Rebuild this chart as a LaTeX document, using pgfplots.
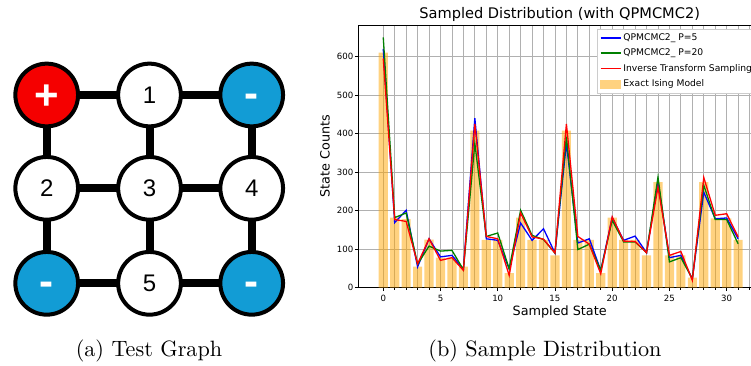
\documentclass[border=0pt]{standalone}
\usepackage{fontspec}
\usepackage{graphicx}
\usepackage{pgfplots}
\usepackage{pgfplotstable}
\pgfplotsset{compat=1.18}
\newfontfamily\dejavu{DejaVu Sans}
\newfontfamily\arial{Liberation Sans}
\definecolor{spinblue}{RGB}{18,156,213}
\definecolor{spinred}{RGB}{245,0,0}
\definecolor{barorange}{RGB}{255,165,0}
\definecolor{barlight}{RGB}{255,210,128}
\definecolor{gridgray}{RGB}{176,176,176}
\definecolor{framegray}{RGB}{204,204,204}
\definecolor{mplblue}{RGB}{0,0,255}
\definecolor{mplgreen}{RGB}{0,128,0}
\definecolor{mplred}{RGB}{255,0,0}

\pgfplotstableread{
x exact p5 p20 its
0 610 620 650 595
1 182 169 182 177
2 178 201 194 172
3 55 54 61 62
4 125 127 108 127
5 78 80 95 71
6 78 84 97 78
7 55 48 47 45
8 408 440 375 425
9 124 127 133 133
10 124 123 142 127
11 38 49 49 32
12 182 168 201 194
13 124 123 136 132
14 124 153 125 126
15 84 90 90 90
16 408 375 392 425
17 124 116 99 133
18 124 127 113 113
19 38 45 45 36
20 182 182 175 184
21 124 123 119 121
22 124 134 119 120
23 84 91 91 91
24 274 275 287 261
25 84 78 67 84
26 84 84 78 94
27 26 23 23 19
28 274 248 266 286
29 180 179 177 188
30 180 181 177 192
31 124 127 114 132
}\datatable

\begin{document}
\begin{tikzpicture}[x=1pt,y=1pt]
\useasboundingbox (0,0) rectangle (751,365);
% ---- (a) test graph ----
\foreach \yy in {270,176.7,81.7} {\draw[line width=8pt] (46.7,\yy) -- (251.7,\yy);}
\foreach \xx in {46.7,149.5,251.7} {\draw[line width=8pt] (\xx,81.7) -- (\xx,270);}
\tikzset{spin/.style={circle, draw=black, line width=4pt, minimum size=62.7pt, inner sep=0pt}}
\node[spin, fill=spinred] at (46.7,270) {};
\node[spin, fill=white] at (149.5,270) {};
\node[spin, fill=spinblue] at (251.7,270) {};
\node[spin, fill=white] at (46.7,176.7) {};
\node[spin, fill=white] at (149.5,176.7) {};
\node[spin, fill=white] at (251.7,176.7) {};
\node[spin, fill=spinblue] at (46.7,81.7) {};
\node[spin, fill=white] at (149.5,81.7) {};
\node[spin, fill=spinblue] at (251.7,81.7) {};
\tikzset{dig/.style={inner sep=0pt, font=\arial\fontsize{24}{24}\selectfont}}
\node[dig] at (149.5,270) {1};
\node[dig] at (46.7,176.7) {2};
\node[dig] at (149.5,176.7) {3};
\node[dig] at (251.7,176.7) {4};
\node[dig] at (149.5,81.7) {5};
\tikzset{sgn/.style={inner sep=0pt, anchor=base, text=white, font=\arial\bfseries\fontsize{42}{42}\selectfont}}
\node[sgn] at (46.7,255.5) {+};
\node[sgn] at (251.7,257.5) {-};
\node[sgn] at (46.7,69.2) {-};
\node[sgn] at (251.7,69.2) {-};
\node at (149,14.2) {\scalebox{2.22}{\fontsize{10}{12}\selectfont (a) Test Graph}};
\node at (545,14.2) {\scalebox{2.22}{\fontsize{10}{12}\selectfont (b) Sample Distribution}};
% ---- (b) chart ----
\begin{axis}[
  at={(358.3pt,77.3pt)}, anchor=south west,
  scale only axis, width=402.7pt, height=262.7pt,
  xmin=-2.18, xmax=33.0, ymin=0, ymax=682,
  axis line style={black, line width=0.8pt},
  tick style={black, line width=0.8pt},
  tick align=outside,
  major tick length=3.5pt, minor tick length=2pt,
  xtick={0,5,...,30},
  minor xtick={0,...,32},
  ytick={0,100,...,600},
  xtick pos=lower, ytick pos=left,
  grid=both,
  major grid style={gridgray, line width=0.8pt},
  minor grid style={gridgray, line width=0.8pt},
  /pgf/number format/assume math mode=true,
  ticklabel style={font=\dejavu\fontsize{8.6}{10}\selectfont},
  yticklabel style={xshift=2pt},
  title={Sampled Distribution (with QPMCMC2)},
  title style={at={(axis description cs:0.5,1.0)}, anchor=base, inner sep=0pt, font=\dejavu\fontsize{14.6}{16}\selectfont},
  xlabel={Sampled State},
  xlabel style={at={(axis description cs:0.5,-0.1077)}, anchor=base, inner sep=0pt, font=\dejavu\fontsize{12.8}{14}\selectfont},
  ylabel={State Counts},
  ylabel style={at={(axis description cs:-0.0713,0.5)}, anchor=base, inner sep=0pt, font=\dejavu\fontsize{12.8}{14}\selectfont},
  legend style={at={(0.593,0.985)}, anchor=north west, draw=framegray, fill=white,
     font=\dejavu\fontsize{9.2}{10}\selectfont, inner sep=2.5pt, row sep=3pt},
  legend cell align=left,
]
\addplot[ybar, bar width=0.8, bar shift=0pt, fill=barorange, fill opacity=0.5, draw=none, forget plot] table[x=x,y=exact] {\datatable};
\addplot[mplblue, line width=1.3pt, mark=none,
  legend image code/.code={\draw[mplblue, line width=1.6pt] (0pt,0pt) -- (20pt,0pt);}] table[x=x,y=p5] {\datatable};
\addlegendentry{QPMCMC2\_ P=5}
\addplot[mplgreen, line width=1.3pt, mark=none,
  legend image code/.code={\draw[mplgreen, line width=1.6pt] (0pt,0pt) -- (20pt,0pt);}] table[x=x,y=p20] {\datatable};
\addlegendentry{QPMCMC2\_ P=20}
\addplot[mplred, line width=1.3pt, mark=none,
  legend image code/.code={\draw[mplred, line width=1.6pt] (0pt,0pt) -- (20pt,0pt);}] table[x=x,y=its] {\datatable};
\addlegendentry{Inverse Transform Sampling}
\addlegendimage{legend image code/.code={\fill[barlight] (0pt,-4pt) rectangle (20pt,4pt);}}
\addlegendentry{Exact Ising Model}
\end{axis}
\end{tikzpicture}
\end{document}
